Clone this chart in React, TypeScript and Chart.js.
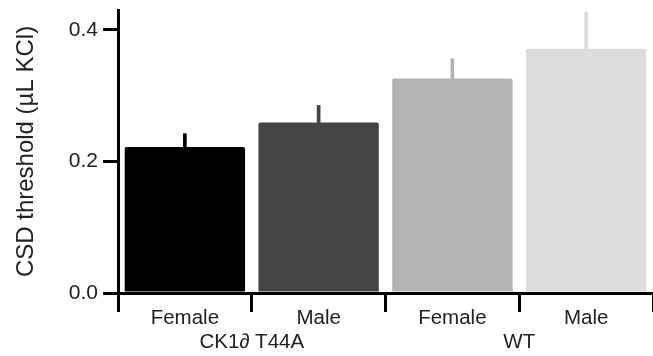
import React, { useEffect, useRef } from 'react';
import { Chart, registerables } from 'chart.js';

Chart.register(...registerables);

const categories = ['Female', 'Male', 'Female', 'Male'];
const groups = ['CK1∂ T44A', 'WT'];
const means = [0.222, 0.259, 0.326, 0.371];
const errorTops = [0.242, 0.285, 0.356, 0.427];
const barColors = ['#000000', '#444444', '#b3b3b3', '#dcdcdc'];
const yTicks = [0, 0.2, 0.4];
const yTitle = 'CSD threshold (µL KCl)';

const FONT = "'Liberation Sans', Arial, sans-serif";
const TEXT = '#222222';

export default function App() {
  const ref = useRef<HTMLCanvasElement | null>(null);

  useEffect(() => {
    if (!ref.current) return;
    const chart = new Chart(ref.current, {
      type: 'bar',
      data: {
        labels: categories,
        datasets: [
          {
            data: means,
            backgroundColor: barColors,
            borderRadius: 2,
            barPercentage: 0.9,
            categoryPercentage: 1,
            grouped: false,
            order: 1,
          } as any,
          {
            data: means.map((m, i) => [m, errorTops[i]]),
            backgroundColor: barColors,
            barThickness: 3,
            grouped: false,
            order: 2,
          } as any,
        ],
      },
      options: {
        responsive: false,
        animation: false,
        layout: { padding: { top: 10, right: 0, left: 0, bottom: 0 } },
        plugins: { legend: { display: false }, tooltip: { enabled: false } },
        scales: {
          x: {
            type: 'category',
            offset: true,
            weight: 0,
            grid: {
              offset: true,
              drawOnChartArea: false,
              tickLength: 19,
              lineWidth: 3,
              color: (ctx: any) => (ctx.index === categories.length ? 'rgba(0,0,0,0)' : '#000000'),
            },
            border: { color: '#000000', width: 3 },
            ticks: {
              color: TEXT,
              font: { family: FONT, size: 20.5 },
              padding: -6,
              maxRotation: 0,
              autoSkip: false,
            },
            afterFit: (s: any) => {
              s.height = 38;
              s.paddingLeft = 0;
              s.paddingRight = 0;
            },
          },
          x2: {
            type: 'category',
            labels: groups,
            offset: true,
            position: 'bottom',
            weight: 1,
            grid: { display: false },
            border: { display: false },
            ticks: {
              color: TEXT,
              font: { family: FONT, size: 20.5 },
              padding: -9,
              maxRotation: 0,
              autoSkip: false,
            },
            afterFit: (s: any) => {
              s.height = 25;
              s.paddingLeft = 0;
              s.paddingRight = 0;
            },
          },
          y: {
            min: 0,
            max: 0.43,
            afterBuildTicks: (s: any) => {
              s.ticks = yTicks.map((v) => ({ value: v }));
            },
            grid: {
              drawOnChartArea: false,
              tickLength: 15,
              lineWidth: 3,
              color: '#000000',
            },
            border: { color: '#000000', width: 3 },
            ticks: {
              color: TEXT,
              font: { family: FONT, size: 21 },
              padding: 5,
              callback: (v: any) => Number(v).toFixed(1),
            },
            title: {
              display: true,
              text: yTitle,
              color: TEXT,
              font: { family: FONT, size: 24 },
              padding: { top: 12, bottom: 0 },
            },
            afterFit: (s: any) => {
              s.width = 118;
              s.paddingTop = 0;
              s.paddingBottom = 0;
            },
          },
        },
      } as any,
    });
    return () => chart.destroy();
  }, []);

  return (
    <div style={{ position: 'fixed', left: 0, top: 0, width: 653, height: 356, background: '#ffffff' }}>
      <canvas ref={ref} width={653} height={356} style={{ display: 'block' }} />
    </div>
  );
}
